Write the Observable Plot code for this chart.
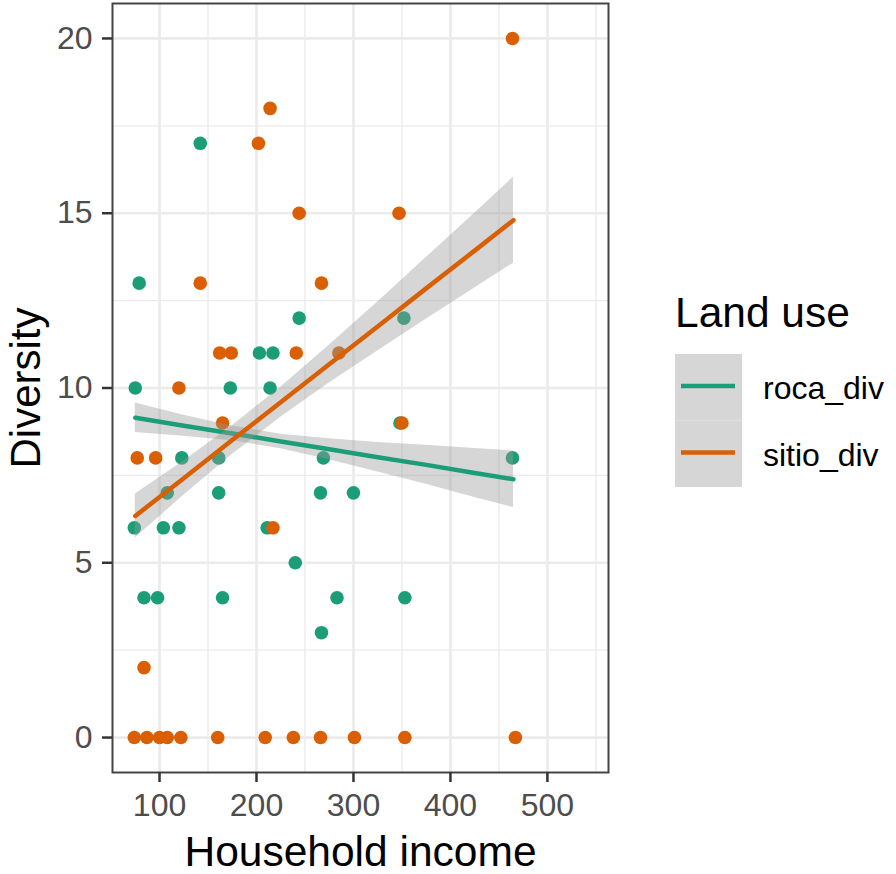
<!DOCTYPE html>
<html>
<head>
<meta charset="utf-8">
<script src="https://cdn.jsdelivr.net/npm/d3@7"></script>
<script src="https://cdn.jsdelivr.net/npm/@observablehq/plot@0.6"></script>
<style>
  body { margin: 0; background: white; font-family: "Liberation Sans", Arial, sans-serif; }
  #wrap { position: relative; width: 896px; height: 874px; }
  #legend { position: absolute; left: 660px; top: 280px; }
</style>
</head>
<body>
<div id="wrap"></div>
<script>
// ---- data ----
const series = ["roca_div", "sitio_div"];
const seriesColors = ["#1B9E77", "#D95F02"];

const roca_x = [142, 79, 244, 352, 203, 217, 75, 173, 214, 348, 123, 161, 269, 464, 108, 161, 266, 300, 74, 104, 120, 211, 240, 84, 98, 165, 283, 353, 267];
const roca_y = [17, 13, 12, 12, 11, 11, 10, 10, 10, 9, 8, 8, 8, 8, 7, 7, 7, 7, 6, 6, 6, 6, 5, 4, 4, 4, 4, 4, 3];

const sitio_x = [464, 214, 202, 244, 347, 142, 267, 162, 174, 241, 285, 120, 165, 350, 77, 96, 217, 84, 74, 87, 100, 108, 122, 160, 209, 238, 266, 301, 353, 467];
const sitio_y = [20, 18, 17, 15, 15, 13, 13, 11, 11, 11, 11, 10, 9, 9, 8, 8, 6, 2, 0, 0, 0, 0, 0, 0, 0, 0, 0, 0, 0, 0];

// fitted lines and 95% bands
const fit_x    = [75, 125, 175, 225, 275, 325, 375, 425, 465];
const roca_fit = [9.15, 8.92, 8.70, 8.47, 8.25, 8.02, 7.80, 7.57, 7.39];
const roca_lo  = [8.73, 8.62, 8.49, 8.26, 7.95, 7.60, 7.25, 6.87, 6.58];
const roca_hi  = [9.57, 9.22, 8.91, 8.68, 8.55, 8.44, 8.36, 8.27, 8.20];
const sitio_fit = [6.34, 7.42, 8.51, 9.59, 10.68, 11.76, 12.85, 13.93, 14.80];
const sitio_lo  = [5.71, 6.93, 8.10, 9.16, 10.14, 11.06, 11.97, 12.86, 13.57];
const sitio_hi  = [6.97, 7.91, 8.92, 10.02, 11.22, 12.46, 13.73, 15.00, 16.03];

const xTicks = [100, 200, 300, 400, 500];
const xMinor = [150, 250, 350, 450, 550];
const yTicks = [0, 5, 10, 15, 20];
const yMinor = [2.5, 7.5, 12.5, 17.5];

const xTitle = "Household income";
const yTitle = "Diversity";
const legendTitle = "Land use";

// ---- tables ----
const points = [
  ...roca_x.map((x, i) => ({x, y: roca_y[i], s: series[0]})),
  ...sitio_x.map((x, i) => ({x, y: sitio_y[i], s: series[1]}))
];
const rocaFit = fit_x.map((x, i) => ({x, y: roca_fit[i], lo: roca_lo[i], hi: roca_hi[i]}));
const sitioFit = fit_x.map((x, i) => ({x, y: sitio_fit[i], lo: sitio_lo[i], hi: sitio_hi[i]}));

const FONT = "Liberation Sans, Arial, Helvetica, sans-serif";

const chart = Plot.plot({
  width: 896,
  height: 874,
  marginLeft: 112,
  marginRight: 288,
  marginTop: 3,
  marginBottom: 102,
  style: {fontFamily: FONT, background: "white", overflow: "visible"},
  x: {domain: [51.5, 563]},
  y: {domain: [-1, 21]},
  color: {domain: series, range: seriesColors},
  marks: [
    Plot.gridX(xMinor, {stroke: "#EBEBEB", strokeOpacity: 1, strokeWidth: 1.4}),
    Plot.gridY(yMinor, {stroke: "#EBEBEB", strokeOpacity: 1, strokeWidth: 1.4}),
    Plot.gridX(xTicks, {stroke: "#EBEBEB", strokeOpacity: 1, strokeWidth: 2.7}),
    Plot.gridY(yTicks, {stroke: "#EBEBEB", strokeOpacity: 1, strokeWidth: 2.7}),
    Plot.dot(points, {x: "x", y: "y", fill: "s", r: 6.8}),
    Plot.areaY(rocaFit, {x: "x", y1: "lo", y2: "hi", fill: "#999999", fillOpacity: 0.4}),
    Plot.line(rocaFit, {x: "x", y: "y", stroke: seriesColors[0], strokeWidth: 4.5}),
    Plot.areaY(sitioFit, {x: "x", y1: "lo", y2: "hi", fill: "#999999", fillOpacity: 0.4}),
    Plot.line(sitioFit, {x: "x", y: "y", stroke: seriesColors[1], strokeWidth: 4.5}),
    Plot.frame({stroke: "#444444", strokeWidth: 2}),
    Plot.axisX(xTicks, {tickSize: 10, tickPadding: 11, fontSize: 32, fill: "#4D4D4D", stroke: "#333333", strokeWidth: 2.5, label: null}),
    Plot.axisY(yTicks, {tickSize: 10, tickPadding: 10, fontSize: 32, fill: "#4D4D4D", stroke: "#333333", strokeWidth: 2.5, label: null}),
    Plot.text([xTitle], {frameAnchor: "bottom", dy: 93, text: d => d, fontSize: 42.5, fill: "black", textAnchor: "middle", lineAnchor: "bottom"}),
    Plot.text([yTitle], {frameAnchor: "left", dx: -73, rotate: -90, text: d => d, fontSize: 42, fill: "black", textAnchor: "middle", lineAnchor: "bottom"})
  ]
});

const wrap = document.getElementById("wrap");
wrap.appendChild(chart);

// ---- legend ----
const ns = "http://www.w3.org/2000/svg";
const lg = document.createElementNS(ns, "svg");
lg.setAttribute("id", "legend");
lg.setAttribute("width", 236);
lg.setAttribute("height", 230);
lg.style.fontFamily = FONT;
function el(tag, attrs, text) {
  const e = document.createElementNS(ns, tag);
  for (const k in attrs) e.setAttribute(k, attrs[k]);
  if (text != null) e.textContent = text;
  lg.appendChild(e);
  return e;
}
el("text", {x: 15, y: 47, "font-size": 42.5, fill: "black"}, legendTitle);
series.forEach((s, i) => {
  const top = 74 + i * 66.5;
  el("rect", {x: 15, y: top, width: 67, height: 66.5, fill: "#D6D6D6"});
  el("line", {x1: 21, x2: 75, y1: top + 32, y2: top + 32, stroke: seriesColors[i], "stroke-width": 4.5});
  el("text", {x: 103, y: top + 45, "font-size": 32, fill: "black"}, s);
});
wrap.appendChild(lg);
</script>
</body>
</html>
